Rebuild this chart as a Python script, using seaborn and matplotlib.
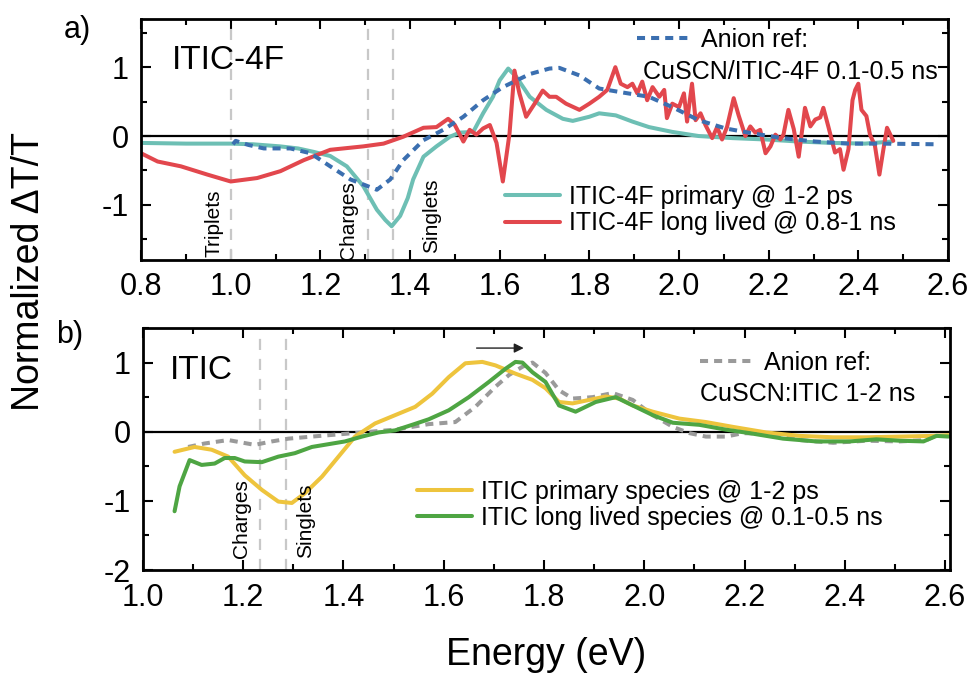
import matplotlib
matplotlib.use('Agg')
import matplotlib.pyplot as plt
from matplotlib.lines import Line2D
from matplotlib.ticker import MultipleLocator
import seaborn as sns
import pandas as pd

# ---- panel a: ITIC-4F ----
a_prim_e = [0.80, 0.90, 1.00, 1.05, 1.11, 1.15, 1.185, 1.222, 1.259, 1.296, 1.326, 1.345, 1.359,
            1.378, 1.395, 1.407, 1.43, 1.459, 1.489, 1.511, 1.541, 1.563, 1.585, 1.60, 1.619,
            1.637, 1.667, 1.704, 1.741, 1.763, 1.80, 1.822, 1.859, 1.896, 1.933, 1.985, 2.044,
            2.119, 2.193, 2.267, 2.341, 2.415, 2.474]
a_prim_v = [-0.10, -0.11, -0.11, -0.12, -0.15, -0.18, -0.23, -0.29, -0.44, -0.73, -1.07, -1.22, -1.31,
            -1.16, -0.90, -0.63, -0.30, -0.15, -0.01, 0.05, 0.06, 0.33, 0.57, 0.81, 0.98,
            0.86, 0.57, 0.38, 0.25, 0.22, 0.28, 0.33, 0.30, 0.21, 0.13, 0.06, 0.0,
            -0.03, -0.05, -0.08, -0.10, -0.11, -0.08]

a_long_e = [0.80, 0.837, 0.889, 0.948, 1.0, 1.059, 1.111, 1.163, 1.222, 1.296, 1.341, 1.385, 1.43,
            1.459, 1.485, 1.50, 1.519, 1.533, 1.548, 1.563, 1.578, 1.593, 1.607, 1.622, 1.633,
            1.644, 1.659, 1.678, 1.696, 1.711, 1.726, 1.748, 1.778, 1.80, 1.822, 1.84, 1.858,
            1.870, 1.885, 1.896, 1.907, 1.918, 1.929, 1.941, 1.956, 1.967, 1.973, 1.985, 2.0,
            2.011, 2.018, 2.029, 2.037, 2.048, 2.059, 2.074, 2.085, 2.096, 2.107, 2.122, 2.133,
            2.148, 2.159, 2.17, 2.181, 2.193, 2.204, 2.215, 2.226, 2.233, 2.244, 2.256, 2.267,
            2.281, 2.293, 2.304, 2.315, 2.322, 2.333, 2.348, 2.359, 2.367, 2.378, 2.387, 2.393,
            2.40, 2.407, 2.418, 2.426, 2.437, 2.447, 2.456, 2.464, 2.478]
a_long_v = [-0.25, -0.37, -0.44, -0.56, -0.66, -0.61, -0.51, -0.35, -0.20, -0.15, -0.11, -0.01, 0.12,
            0.13, 0.25, 0.16, -0.08, 0.09, 0.02, 0.11, 0.16, -0.10, -0.66, 0.04, 0.95,
            0.62, 0.28, 0.47, 0.66, 0.57, 0.57, 0.47, 0.38, 0.47, 0.57, 0.67, 1.0,
            0.76, 0.71, 0.76, 0.62, 0.79, 0.52, 0.71, 0.57, 0.67, 0.26, 0.47, 0.42,
            0.62, 0.21, 0.76, 0.23, 0.33, 0.16, -0.03, 0.13, -0.05, 0.13, 0.55, 0.30,
            0.0, 0.14, 0.05, 0.09, -0.25, -0.15, 0.02, -0.05, 0.02, 0.38, 0.10, -0.30,
            0.41, 0.14, 0.24, 0.27, 0.41, 0.14, -0.24, -0.19, -0.49, -0.19, 0.52, 0.67,
            0.76, 0.38, 0.29, 0.02, -0.14, -0.56, -0.19, 0.12, -0.07]

a_anion_e = [1.005, 1.011, 1.04, 1.074, 1.133, 1.178, 1.222, 1.267, 1.326, 1.356, 1.385, 1.43,
             1.474, 1.519, 1.563, 1.607, 1.667, 1.711, 1.733, 1.778, 1.822, 1.867, 1.933, 1.985,
             2.044, 2.104, 2.163, 2.23, 2.304, 2.378, 2.452, 2.578]
a_anion_v = [-0.12, -0.07, -0.13, -0.18, -0.18, -0.25, -0.44, -0.63, -0.78, -0.63, -0.35, -0.06,
             0.09, 0.28, 0.52, 0.71, 0.90, 0.98, 0.99, 0.88, 0.69, 0.64, 0.57, 0.42,
             0.23, 0.11, 0.04, -0.03, -0.08, -0.11, -0.11, -0.12]

# ---- panel b: ITIC ----
b_prim_e = [1.063, 1.103, 1.137, 1.17, 1.203, 1.237, 1.27, 1.297, 1.323, 1.357, 1.39, 1.423, 1.463,
            1.503, 1.543, 1.577, 1.61, 1.643, 1.677, 1.703, 1.743, 1.777, 1.803, 1.83, 1.857,
            1.89, 1.923, 1.95, 1.977, 2.017, 2.07, 2.123, 2.177, 2.243, 2.31, 2.377, 2.443,
            2.51, 2.577, 2.607]
b_prim_v = [-0.29, -0.22, -0.26, -0.36, -0.63, -0.84, -1.01, -1.03, -0.89, -0.65, -0.36, -0.07, 0.12,
            0.24, 0.36, 0.55, 0.79, 0.99, 1.01, 0.96, 0.84, 0.75, 0.63, 0.43, 0.41,
            0.46, 0.51, 0.48, 0.38, 0.29, 0.19, 0.14, 0.07, -0.01, -0.06, -0.08, -0.08,
            -0.07, -0.06, -0.05]

b_long_e = [1.063, 1.073, 1.093, 1.117, 1.143, 1.163, 1.183, 1.203, 1.237, 1.27, 1.303, 1.337,
            1.403, 1.437, 1.47, 1.503, 1.537, 1.57, 1.61, 1.65, 1.69, 1.723, 1.743, 1.757,
            1.777, 1.803, 1.83, 1.863, 1.903, 1.943, 1.977, 2.017, 2.057, 2.11, 2.163, 2.21,
            2.277, 2.343, 2.41, 2.463, 2.51, 2.557, 2.583, 2.607]
b_long_v = [-1.15, -0.79, -0.41, -0.48, -0.46, -0.38, -0.38, -0.43, -0.44, -0.36, -0.31, -0.22,
            -0.14, -0.07, -0.01, 0.02, 0.10, 0.18, 0.31, 0.50, 0.72, 0.91, 1.01, 1.0,
            0.86, 0.72, 0.38, 0.29, 0.43, 0.50, 0.38, 0.24, 0.13, 0.10, 0.03, -0.02,
            -0.10, -0.14, -0.14, -0.11, -0.13, -0.14, -0.06, -0.07]

b_anion_e = [1.09, 1.123, 1.17, 1.223, 1.257, 1.29, 1.337, 1.37, 1.437, 1.503, 1.57, 1.623,
             1.663, 1.703, 1.73, 1.757, 1.777, 1.803, 1.83, 1.857, 1.897, 1.937, 1.977, 2.017,
             2.057, 2.09, 2.123, 2.163, 2.197, 2.243, 2.31, 2.377, 2.443, 2.51, 2.563, 2.583]
b_anion_v = [-0.22, -0.17, -0.12, -0.19, -0.14, -0.10, -0.07, -0.05, -0.01, 0.03, 0.11, 0.14,
             0.36, 0.65, 0.82, 0.94, 1.0, 0.85, 0.60, 0.48, 0.50, 0.56, 0.46, 0.24,
             0.07, -0.02, -0.07, -0.07, -0.02, -0.03, -0.12, -0.16, -0.13, -0.14, -0.12, -0.05]

# marker lines (eV) and their labels
a_marks = [1.0, 1.307, 1.362]
a_mark_labels = [(0.962, -1.76, 'Triplets'), (1.262, -1.80, 'Charges'), (1.449, -1.70, 'Singlets')]
b_marks = [1.234, 1.286]
b_mark_labels = [(1.196, -1.83, 'Charges'), (1.324, -1.83, 'Singlets')]

teal = '#6dbfb4'
red = '#e2474d'
blue = '#3b6fb0'
yellow = '#eec43d'
green = '#4ea543'
grey = '#9a9a9a'

sns.set_theme(style='ticks')
plt.rcParams['font.family'] = ['Liberation Sans', 'DejaVu Sans']
plt.rcParams['axes.unicode_minus'] = False
plt.rcParams['text.color'] = 'black'

fig = plt.figure(figsize=(9.74, 6.73), dpi=100)
ax1 = fig.add_axes([0.1448, 0.6137, 0.8285, 0.3581])
ax2 = fig.add_axes([0.1468, 0.153, 0.8286, 0.3596])

lw = 2.9
dot = (0, (2.0, 1.5))


def draw(ax, e, v, color, ls='-'):
    df = pd.DataFrame({'E': e, 'v': v})
    sns.lineplot(data=df, x='E', y='v', ax=ax, color=color, linewidth=lw, linestyle=ls,
                 estimator=None, sort=False, legend=False)


# panel a
for m in a_marks:
    ax1.axvline(m, color='#c8c8c8', lw=1.6, ls=(0, (5, 4)), zorder=1)
ax1.axhline(0, color='black', lw=1.6, zorder=1.5)
draw(ax1, a_prim_e, a_prim_v, teal)
draw(ax1, a_long_e, a_long_v, red)
draw(ax1, a_anion_e, a_anion_v, blue, dot)
for x, y, t in a_mark_labels:
    ax1.text(x, y, t, rotation=90, ha='center', va='bottom', fontsize=15)

# panel b
for m in b_marks:
    ax2.axvline(m, color='#c8c8c8', lw=1.6, ls=(0, (5, 4)), zorder=1)
ax2.axhline(0, color='black', lw=1.6, zorder=1.5)
draw(ax2, b_anion_e, b_anion_v, grey, dot)
draw(ax2, b_prim_e, b_prim_v, yellow)
draw(ax2, b_long_e, b_long_v, green)
for x, y, t in b_mark_labels:
    ax2.text(x, y, t, rotation=90, ha='center', va='bottom', fontsize=15)
ax2.annotate('', xy=(1.765, 1.21), xytext=(1.66, 1.21),
             arrowprops=dict(arrowstyle='-|>', color='#222222', lw=1.0, mutation_scale=14))

ax1.set_xlim(0.8, 2.6)
ax1.set_ylim(-1.8, 1.7)
ax2.set_xlim(1.0, 2.61)
ax2.set_ylim(-2.0, 1.5)

for ax in (ax1, ax2):
    ax.set_xlabel('')
    ax.set_ylabel('')
    ax.xaxis.set_major_locator(MultipleLocator(0.2))
    ax.xaxis.set_minor_locator(MultipleLocator(0.1))
    ax.yaxis.set_major_locator(MultipleLocator(1))
    ax.yaxis.set_minor_locator(MultipleLocator(0.5))
    ax.xaxis.set_major_formatter(plt.FormatStrFormatter('%.1f'))
    ax.yaxis.set_major_formatter(plt.FormatStrFormatter('%d'))
    ax.tick_params(which='both', direction='in', top=True, right=True, width=1.5,
                   labelsize=22, color='black', labelcolor='black')
    ax.tick_params(which='major', length=7, pad=9)
    ax.tick_params(which='minor', length=4.5)
    for s in ax.spines.values():
        s.set_linewidth(2.0)
        s.set_color('black')

ax1.text(0.038, 0.826, 'ITIC-4F', transform=ax1.transAxes, fontsize=24, va='center')
ax2.text(0.033, 0.826, 'ITIC', transform=ax2.transAxes, fontsize=24, va='center')

# legends panel a
lg = ax1.legend(handles=[Line2D([], [], color=blue, lw=lw, ls=dot)], labels=['Anion ref:'],
                loc='center left', bbox_to_anchor=(0.615, 0.913), frameon=False, fontsize=18,
                borderpad=0, borderaxespad=0, handlelength=2.2, handletextpad=0.35)
ax1.add_artist(lg)
ax1.text(0.622, 0.78, 'CuSCN/ITIC-4F 0.1-0.5 ns', transform=ax1.transAxes, fontsize=18,
         va='center', ha='left')
ax1.legend(handles=[Line2D([], [], color=teal, lw=lw), Line2D([], [], color=red, lw=lw)],
           labels=['ITIC-4F primary @ 1-2 ps', 'ITIC-4F long lived @ 0.8-1 ns'],
           loc='center left', bbox_to_anchor=(0.451, 0.207), frameon=False, fontsize=18,
           borderpad=0, borderaxespad=0, handlelength=2.2, handletextpad=0.35, labelspacing=0.1)

# legends panel b
lg = ax2.legend(handles=[Line2D([], [], color=grey, lw=lw, ls=dot)], labels=['Anion ref:'],
                loc='center left', bbox_to_anchor=(0.690, 0.855), frameon=False, fontsize=18,
                borderpad=0, borderaxespad=0, handlelength=2.2, handletextpad=0.35)
ax2.add_artist(lg)
ax2.text(0.690, 0.727, 'CuSCN:ITIC 1-2 ns', transform=ax2.transAxes, fontsize=18,
         va='center', ha='left')
ax2.legend(handles=[Line2D([], [], color=yellow, lw=lw), Line2D([], [], color=green, lw=lw)],
           labels=['ITIC primary species @ 1-2 ps', 'ITIC long lived species @ 0.1-0.5 ns'],
           loc='center left', bbox_to_anchor=(0.3395, 0.269), frameon=False, fontsize=18,
           borderpad=0, borderaxespad=0, handlelength=2.2, handletextpad=0.35, labelspacing=0.1)

fig.text(0.065, 0.955, 'a)', fontsize=22, va='center', ha='left')
fig.text(0.058, 0.502, 'b)', fontsize=22, va='center', ha='left')
fig.text(0.03, 0.596, 'Normalized ΔT/T', rotation=90, fontsize=27, va='center', ha='center')
fig.text(0.561, 0.012, 'Energy (eV)', fontsize=27, va='baseline', ha='center')

fig.savefig('out.png', dpi=100)
